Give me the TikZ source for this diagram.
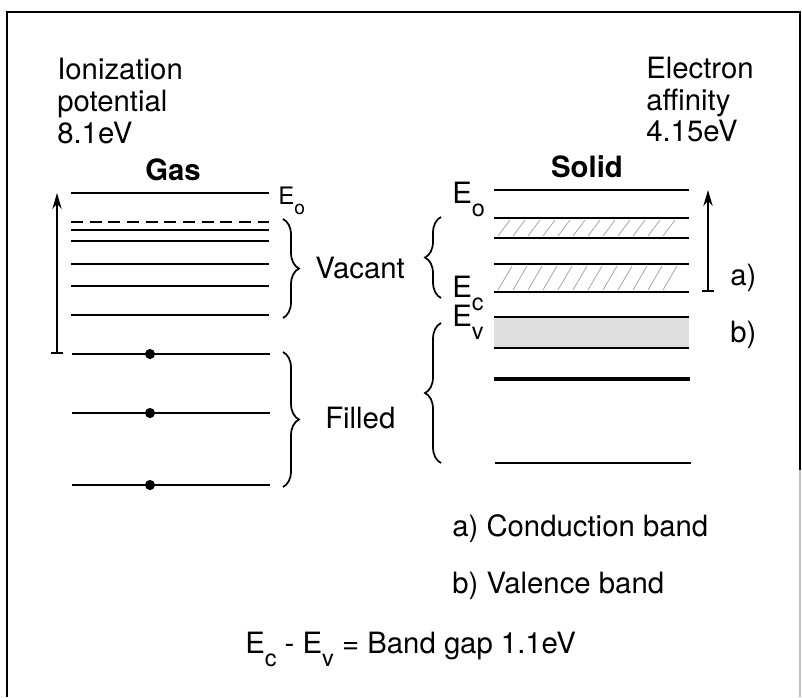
\documentclass[tikz,border=0pt]{standalone}
\usepackage{fontspec}
\setmainfont{TeX Gyre Heros}
\usetikzlibrary{arrows.meta,decorations.pathreplacing}
\tikzset{
  level/.style={line width=1.5pt},
  heavylevel/.style={line width=3.2pt},
  hatch/.style={gray!70, line width=0.6pt},
  lbl/.style={font=\fontsize{22}{24}\selectfont, inner sep=0pt},
  smalllbl/.style={font=\fontsize{18}{20}\selectfont, inner sep=0pt},
  headlbl/.style={font=\fontsize{22}{24}\selectfont\bfseries, inner sep=0pt},
  curly/.style={decorate, decoration={brace, amplitude=12pt}, line width=1.3pt},
  gaparrow/.style={line width=1.2pt, {Bar[width=9pt]}-{Stealth[length=12pt,width=7pt]}},
}
\newcommand{\lvlsub}[1]{\raisebox{-0.45em}{\scalebox{0.8}{#1}}}

\begin{document}
\begin{tikzpicture}[x=0.75pt, y=-0.75pt]
    \useasboundingbox (0,0) rectangle (802,697);
    \draw[line width=1.1pt] (7,697) -- (7,12) -- (800,12) -- (800,470);
    \draw[line width=1.1pt, gray!50] (800,470) -- (800,697);

    \node[lbl, anchor=base west] (ion1) at (57,79) {Ionization};
    \node[lbl, anchor=base west] (ion2) at (57,111) {potential};
    \node[lbl, anchor=base west] (ion3) at (57,143) {8.1eV};
    \node[lbl, anchor=base west] (aff1) at (646,78) {Electron};
    \node[lbl, anchor=base west] (aff2) at (646,110) {affinity};
    \node[lbl, anchor=base west] (aff3) at (646,141) {4.15eV};

    \node[headlbl, anchor=base] (gas) at (173,180) {Gas};
    \node[headlbl, anchor=base] (solid) at (587,177) {Solid};

    \draw[level] (71,193) -- (269,193);
    \draw[level, dash pattern=on 9pt off 5pt] (71,222) -- (269,222);
    \foreach \y in {230,241,264,286,315}
      \draw[level] (71,\y) -- (269,\y);
    \foreach \y in {354,413,485} {
      \draw[level] (72,\y) -- (270,\y);
      \fill (150,\y) circle (3.8pt);
    }
    \node[smalllbl, anchor=base west] (eog) at (278,204) {E\lvlsub{o}};
    \coordinate (gtail) at (57,354);
    \coordinate (ghead) at (57,193);
    \draw[gaparrow] (gtail) -- (ghead);

    \draw[curly] (283,219) -- (283,318);
    \draw[curly] (283,352) -- (283,487);
    \node[lbl, anchor=base west] (vacant) at (315,278) {Vacant};
    \node[lbl, anchor=base west] (filled) at (325,428) {Filled};
    \draw[curly] (441,298) -- (441,217);
    \draw[curly] (441,463) -- (441,323);

    \fill[gray!25] (494,317) rectangle (689,348);
    \foreach \x in {498,513,...,668}
      \draw[hatch] (\x,236) -- (\x+12,220);
    \foreach \x in {498,513,...,668}
      \draw[hatch] (\x,290) -- (\x+14,266);
    \foreach \y in {190,218,238,264,292,317,348}
      \draw[level] (494,\y) -- (689,\y);
    \draw[heavylevel] (494,379) -- (690,379);
    \draw[level] (495,463) -- (691,463);

    \node[lbl, anchor=base west] (eos) at (452,203) {E\lvlsub{o}};
    \node[lbl, anchor=base west] (ec) at (452,297) {E\lvlsub{c}};
    \node[lbl, anchor=base west] (ev) at (452,326) {E\lvlsub{v}};
    \coordinate (stail) at (708,292);
    \coordinate (shead) at (708,190);
    \draw[gaparrow] (stail) -- (shead);
    \node[lbl, anchor=base west] (cbmark) at (730,285) {a)};
    \node[lbl, anchor=base west] (vbmark) at (730,342) {b)};

    \node[lbl, anchor=base west] (cbkey) at (452,536) {a) Conduction band};
    \node[lbl, anchor=base west] (vbkey) at (452,593) {b) Valence band};
    \node[lbl, anchor=base west] (bandgap) at (245,653) {E\lvlsub{c} - E\lvlsub{v} = Band gap 1.1eV};
\end{tikzpicture}
\end{document}
